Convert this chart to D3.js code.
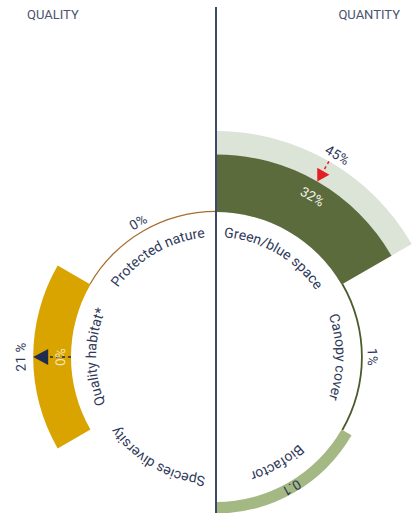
<!DOCTYPE html>
<html>
<head>
<meta charset="utf-8">
<script src="https://cdn.jsdelivr.net/npm/d3@7"></script>
<style>
  body { margin: 0; background: #fff; }
  text { font-family: Roboto, "Noto Sans", sans-serif; }
</style>
</head>
<body>
<svg width="414" height="513"></svg>
<script>
// segments, clockwise from 12 o'clock
var segments = ["Green/blue space", "Canopy cover", "Biofactor", "Species diversity", "Quality habitat*", "Protected nature"];
var units = ["%", "%", "index", "%", "%", "%"];
var values = [32, 1, 0.1, null, 0, 0];
var targets = [45, null, null, null, 21, null];
var valueLabels = ["32%", "1%", "0.1", null, "0%", "0%"];
var targetLabels = ["45%", null, null, null, "21 %", null];
var sides = ["QUANTITY", "QUALITY"];

// styling
var barColor = ["#5b6b3b", "#4b5b2c", "#a3b882", null, "#d9a300", "#a86c2c"];
var targetColor = ["#dce3d7", null, null, null, "#d9a300", null];
var arrowColor = ["#e41e26", null, null, null, "#1f2c4f", null];
var valuePlacement = ["inside", "outside", "inside", null, "inside", "outside"];
var valueFill = ["#f4f4ee", "#2f3a5a", "#2f3a5a", null, "#f6e7b8", "#2f3a5a"];
var textColor = "#2f3a5a";

const svg = d3.select("svg");
var cx = 216, cy = 357, r0 = 145;
var segAngle = 360 / segments.length;
var rad = Math.PI / 180;

var scales = {
    "%": d3.scaleLinear().domain([0, 50]).range([r0, r0 + 90]),
    "index": d3.scaleLinear().domain([0, 1]).range([r0, r0 + 115])
};

function polar(deg, r) {
    return [cx + r * Math.sin(deg * rad), cy - r * Math.cos(deg * rad)];
}

// clockwise arc path used for text
function arcPath(mid, r, span) {
    var a = polar(mid - span, r), b = polar(mid + span, r);
    return "M" + a[0] + "," + a[1] + " A" + r + "," + r + " 0 0 1 " + b[0] + "," + b[1];
}

var defs = svg.append("defs");
var g = svg.append("g");
var pathId = 0;

function curvedText(txt, mid, r, size, fill) {
    var id = "tp" + (pathId++);
    defs.append("path").attr("id", id).attr("d", arcPath(mid, r, 80));
    g.append("text")
        .attr("font-size", size)
        .attr("fill", fill)
      .append("textPath")
        .attr("href", "#" + id)
        .attr("startOffset", "50%")
        .attr("text-anchor", "middle")
        .text(txt);
}

var arc = d3.arc();

segments.forEach(function(name, i) {
    var a0 = i * segAngle, a1 = (i + 1) * segAngle;
    var sc = scales[units[i]];

    // target band
    if (targets[i] != null) {
        g.append("path")
            .attr("transform", "translate(" + cx + "," + cy + ")")
            .attr("d", arc({innerRadius: r0, outerRadius: sc(targets[i]), startAngle: a0 * rad, endAngle: a1 * rad}))
            .attr("fill", targetColor[i]);
    }
    // actual bar
    if (values[i] != null && !(targets[i] != null && values[i] == 0)) {
        var outer = Math.max(sc(values[i]), r0 + 1.2);
        g.append("path")
            .attr("transform", "translate(" + cx + "," + cy + ")")
            .attr("d", arc({innerRadius: r0, outerRadius: outer, startAngle: a0 * rad, endAngle: a1 * rad}))
            .attr("fill", barColor[i]);
    }
});

segments.forEach(function(name, i) {
    var a0 = i * segAngle, mid = a0 + segAngle / 2;
    var sc = scales[units[i]];

    // arrow from one level to the other
    if (targets[i] != null) {
        var ang = mid;
        var from = i == 0 ? sc(targets[i]) : sc(values[i]);
        var to = i == 0 ? sc(values[i]) : sc(targets[i]);
        var dir = from > to ? 1 : -1;
        var len = i == 0 ? 12 : 15, hw = i == 0 ? 7 : 8;
        var baseR = to + dir * len;
        var tip = polar(ang, to), bc = polar(ang, baseR);
        var px = Math.cos(ang * rad), py = Math.sin(ang * rad);
        var p1 = [bc[0] + px * hw, bc[1] + py * hw], p2 = [bc[0] - px * hw, bc[1] - py * hw];
        var s = polar(ang, from);
        g.append("line")
            .attr("x1", s[0]).attr("y1", s[1]).attr("x2", bc[0]).attr("y2", bc[1])
            .attr("stroke", arrowColor[i]).attr("stroke-width", 1.5)
            .attr("stroke-dasharray", "3,3");
        g.append("path")
            .attr("d", "M" + tip + "L" + p1 + "L" + p2 + "Z")
            .attr("fill", arrowColor[i]);

        curvedText(targetLabels[i], ang + (i == 0 ? 1 : 0), sc(targets[i]) + (i == 0 ? 5 : 8), 13.5, textColor);
    }

    // value labels
    if (valueLabels[i] != null) {
        var end = Math.max(sc(values[i]), r0 + 1);
        var lr;
        if (valuePlacement[i] == "outside") lr = end + 5;
        else if (targets[i] != null) lr = Math.max(end - 20, r0 + 6);
        else lr = r0 + 1.5;
        curvedText(valueLabels[i], mid + (i == 0 ? 1 : 0), lr, 13.5, valueFill[i]);
    }

    // segment names inside the circle
    curvedText(name, mid, 120, 14, textColor);
});

// divider
svg.append("line")
    .attr("x1", cx).attr("x2", cx)
    .attr("y1", 7).attr("y2", 513)
    .attr("stroke", "#3b4866")
    .attr("stroke-width", 2);

svg.append("text")
    .attr("x", 27).attr("y", 19)
    .attr("font-size", 13)
    .attr("fill", "#4a5270")
    .text(sides[1]);
svg.append("text")
    .attr("x", 400).attr("y", 19)
    .attr("text-anchor", "end")
    .attr("font-size", 13)
    .attr("fill", "#4a5270")
    .text(sides[0]);
</script>
</body>
</html>
